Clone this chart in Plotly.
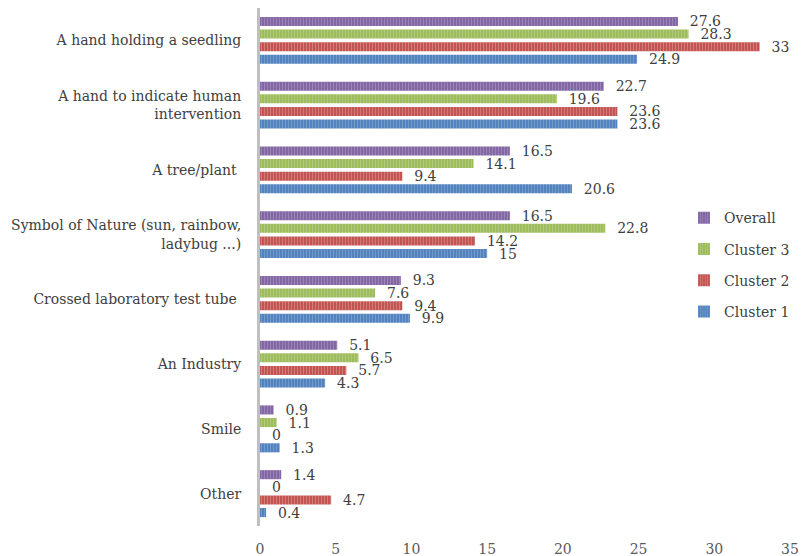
import plotly.graph_objects as go

categories = ["A hand holding a seedling", "A hand to indicate human<br>intervention", "A tree/plant ",
              "Symbol of Nature (sun, rainbow,<br>ladybug ...)", "Crossed laboratory test tube ",
              "An Industry", "Smile", "Other"]
overall = [27.6, 22.7, 16.5, 16.5, 9.3, 5.1, 0.9, 1.4]
cluster3 = [28.3, 19.6, 14.1, 22.8, 7.6, 6.5, 1.1, 0]
cluster2 = [33, 23.6, 9.4, 14.2, 9.4, 5.7, 0, 4.7]
cluster1 = [24.9, 23.6, 20.6, 15, 9.9, 4.3, 1.3, 0.4]
x_ticks = [0, 5, 10, 15, 20, 25, 30, 35]

series = [("Overall", overall, "#8064A2", "#B3A2C7"),
          ("Cluster 3", cluster3, "#9BBB59", "#C3D69B"),
          ("Cluster 2", cluster2, "#C0504D", "#E6A5A4"),
          ("Cluster 1", cluster1, "#4F81BD", "#95B3D7")]

FONT = "DejaVu Serif"
PAD = "\u00a0\u00a0"
fig = go.Figure()
for name, vals, col, light in series:
    fig.add_trace(go.Bar(
        y=categories, x=vals, name=name, orientation="h", legendgroup=name,
        marker=dict(color=col, line=dict(width=0),
                    pattern=dict(shape="|", fgcolor=light, size=3, solidity=0.4, fillmode="overlay")),
        text=[PAD + str(v) for v in vals], textposition="outside", cliponaxis=False,
        constraintext="none",
        textfont=dict(family=FONT, size=14, color="#404040"),
    ))

fig.update_layout(
    width=803, height=556, barmode="group", bargap=0.22, bargroupgap=0.28,
    margin=dict(l=260, r=13, t=8, b=30),
    paper_bgcolor="white", plot_bgcolor="white",
    font=dict(family=FONT, size=14, color="#404040"),
    legend=dict(x=0.80, y=0.625, xanchor="left", yanchor="top", traceorder="grouped",
                font=dict(size=14, color="#404040"), itemwidth=30, tracegroupgap=10,
                bgcolor="rgba(0,0,0,0)"),
    xaxis=dict(range=[0, 35], tickvals=x_ticks, showgrid=False, zeroline=False, showline=False,
               automargin=False, ticklabelstandoff=13, tickfont=dict(size=14, color="#595959")),
    yaxis=dict(autorange="reversed", showgrid=False, showline=True, linecolor="#BFBFBF", linewidth=3,
               automargin=False, ticks="", ticklabelstandoff=13, tickfont=dict(size=14, color="#404040")),
)
fig.write_html("out.html", config={"displayModeBar": False},
               post_script="document.body.style.margin='0';")
